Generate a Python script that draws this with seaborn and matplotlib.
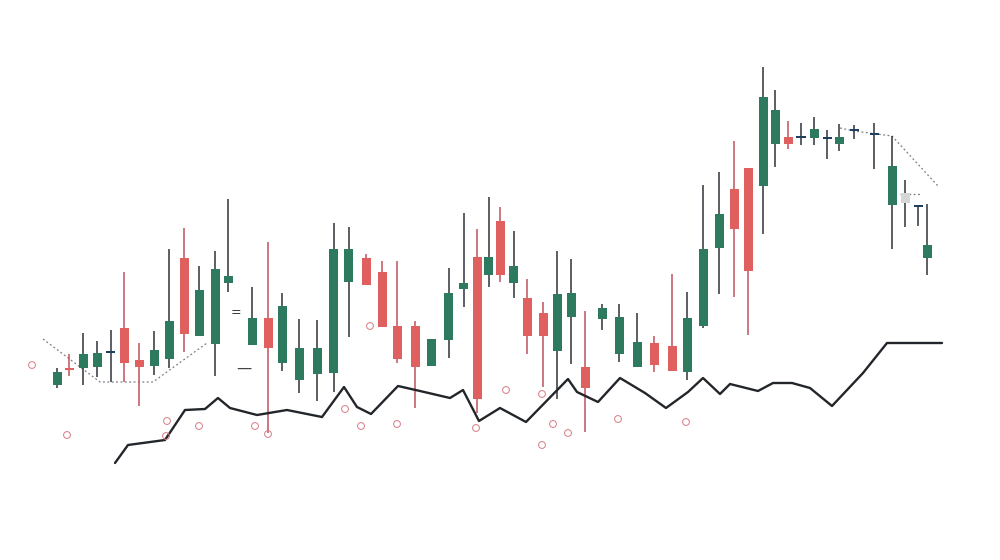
import pandas as pd
import numpy as np
import matplotlib.pyplot as plt
import seaborn as sns

# candle data (time index, open, high, low, close)
t = [5.7, 6.9, 8.3, 9.7, 11.1, 12.4, 13.9, 15.4, 16.9, 18.4, 19.9, 21.5, 22.8,
     25.2, 26.8, 28.2, 29.9, 31.7, 33.4, 34.9, 36.6, 38.2, 39.7, 41.5, 43.1,
     44.9, 46.4, 47.7, 48.9, 50.0, 51.4, 52.7, 54.3, 55.7, 57.1, 58.5, 60.2,
     61.9, 63.7, 65.4, 67.2, 68.7, 70.3, 71.9, 73.4, 74.8, 76.3, 77.5, 78.8,
     80.1, 81.4, 82.7, 83.9, 85.4, 87.4, 89.2, 90.5, 91.8, 92.7]
open_ = [17.5, 19.2, 19.2, 19.3, 20.7, 23.2, 20.0, 19.4, 20.1, 30.2, 22.4, 21.6, 27.7,
         21.5, 24.2, 19.7, 18.0, 18.6, 18.7, 27.8, 30.2, 28.8, 23.4, 23.4, 19.4,
         22.0, 27.1, 30.3, 28.5, 33.9, 27.7, 26.2, 24.7, 20.9, 24.3, 19.3, 24.1,
         20.6, 19.3, 21.7, 21.4, 18.8, 23.4, 31.2, 37.1, 39.2, 37.4, 41.6, 42.3,
         42.2, 42.2, 42.1, 41.6, 42.9, 42.5, 35.5, 35.7, 35.3, 30.2]
high = [19.2, 20.6, 22.7, 21.9, 23.0, 28.8, 21.7, 22.9, 31.1, 33.2, 29.4, 30.9, 36.1,
        27.3, 31.8, 26.7, 24.1, 24.0, 33.7, 33.3, 30.6, 29.9, 29.9, 23.9, 22.1,
        29.2, 34.7, 33.1, 36.3, 35.3, 32.9, 28.1, 25.8, 30.9, 30.1, 24.9, 25.6,
        25.6, 24.7, 22.4, 28.6, 26.8, 37.5, 38.8, 41.9, 39.2, 49.3, 47.0, 43.9,
        43.7, 44.3, 43.0, 43.6, 43.5, 43.7, 42.4, 38.0, 35.3, 35.6]
low = [17.2, 18.4, 17.5, 18.3, 17.8, 17.8, 15.4, 18.5, 19.2, 20.8, 22.4, 18.4, 26.8,
       21.5, 12.7, 18.9, 16.7, 15.9, 16.8, 22.3, 27.5, 23.3, 19.7, 15.2, 19.4,
       20.2, 25.3, 14.7, 27.3, 27.8, 26.2, 20.6, 17.3, 16.1, 19.6, 12.8, 23.0,
       19.8, 19.3, 18.8, 18.9, 18.0, 23.2, 26.6, 26.3, 22.5, 32.6, 39.3, 41.1,
       41.5, 41.5, 40.1, 40.9, 42.1, 39.1, 31.1, 33.3, 33.4, 28.5]
close = [18.8, 19.0, 20.6, 20.7, 20.7, 19.7, 19.3, 21.0, 23.9, 22.6, 27.0, 29.1, 28.4,
         24.2, 21.2, 25.4, 21.2, 21.2, 31.1, 31.1, 27.5, 23.3, 20.1, 19.3, 22.1,
         26.7, 27.7, 16.1, 30.3, 28.5, 29.4, 22.4, 22.4, 26.6, 26.7, 17.2, 25.2,
         24.3, 21.8, 19.5, 18.9, 24.2, 31.1, 34.6, 33.1, 28.9, 46.3, 45.0, 41.6,
         42.2, 43.1, 42.1, 42.3, 42.9, 42.5, 39.4, 36.7, 35.3, 31.5]
muted = [56]  # index of the faded grey candle

# trend line
line_t = [11.5, 12.8, 16.5, 18.5, 20.5, 21.8, 23.0, 25.7, 28.7, 32.2, 34.4, 35.7,
          37.1, 39.8, 42.0, 45.0, 46.3, 47.9, 50.0, 52.6, 56.8, 57.7, 59.8, 62.0,
          64.5, 66.6, 68.8, 70.3, 72.0, 73.0, 75.8, 77.3, 79.2, 81.0, 83.2, 86.3,
          88.7, 94.2]
line_v = [9.7, 11.5, 12.0, 15.0, 15.1, 16.2, 15.2, 14.5, 15.0, 14.3, 17.3, 15.3,
          14.6, 17.4, 16.9, 16.2, 17.0, 13.9, 15.2, 13.8, 18.1, 16.8, 15.8, 18.2,
          16.7, 15.2, 16.8, 18.2, 16.6, 17.6, 16.9, 17.7, 17.7, 17.2, 15.4, 18.7,
          21.7, 21.7]

# dotted guides
guide_left_t = [4.3, 10.0, 15.3, 20.7]
guide_left_v = [22.1, 17.8, 17.8, 21.7]
guide_right_t = [84.0, 85.4, 89.2, 93.8]
guide_right_v = [43.2, 42.9, 42.4, 37.4]
guide_short_t = [90.0, 92.0]
guide_short_v = [36.6, 36.6]

# small circle markers
dot_t = [3.2, 6.7, 16.7, 16.6, 19.9, 25.5, 26.8, 37.0, 34.5, 36.1, 39.7, 47.6,
         50.6, 54.2, 55.3, 56.8, 54.2, 61.8, 68.6]
dot_v = [19.5, 12.5, 13.9, 12.4, 13.4, 13.4, 12.6, 23.4, 15.1, 13.4, 13.6, 13.2,
         17.0, 16.6, 13.6, 12.7, 11.5, 14.1, 13.8]

green = "#2d7a5f"
red = "#e06060"
wick_dark = "#2f3439"
wick_red = "#c0525c"
doji = "#1f3f5f"
grey = "#d6d6d6"

df = pd.DataFrame({"t": t, "open": open_, "high": high, "low": low, "close": close})

sns.set_style("white")
fig = plt.figure(figsize=(10, 5.6), dpi=100)
ax = fig.add_axes([0, 0, 1, 1])

body_col, wick_col = [], []
for i, r in df.iterrows():
    if i in muted:
        body_col.append(grey); wick_col.append(wick_dark)
    elif r["close"] > r["open"]:
        body_col.append(green); wick_col.append(wick_dark)
    elif r["close"] < r["open"]:
        body_col.append(red); wick_col.append(wick_red)
    else:
        body_col.append(doji); wick_col.append(wick_dark)

ax.vlines(df["t"], df["low"], df["high"], colors=wick_col, linewidth=1.1, zorder=2)
bottom = df[["open", "close"]].min(axis=1)
height = (df["close"] - df["open"]).abs().clip(lower=0.25)
ax.bar(df["t"], height, bottom=bottom, width=0.9, color=body_col, linewidth=0, zorder=3)

sns.lineplot(x=line_t, y=line_v, ax=ax, color="#22262a", linewidth=1.7,
             sort=False, estimator=None, zorder=4)
for gt, gv in [(guide_left_t, guide_left_v), (guide_right_t, guide_right_v),
               (guide_short_t, guide_short_v)]:
    sns.lineplot(x=gt, y=gv, ax=ax, color="#7a7f85", linewidth=0.9,
                 linestyle=(0, (1.5, 2)), sort=False, estimator=None, zorder=1)

sns.scatterplot(x=dot_t, y=dot_v, ax=ax, s=24, facecolor="none",
                edgecolor="#d77a82", linewidth=0.7, zorder=5)

ax.text(23.6, 24.7, "=", ha="center", va="center", fontsize=9, color="#333333")
ax.text(24.4, 19.2, "—", ha="center", va="center", fontsize=11, color="#444444")

ax.set_xlim(0, 100)
ax.set_ylim(0, 56)
ax.axis("off")

plt.savefig("out.png", dpi=100, facecolor="white")
plt.close()
